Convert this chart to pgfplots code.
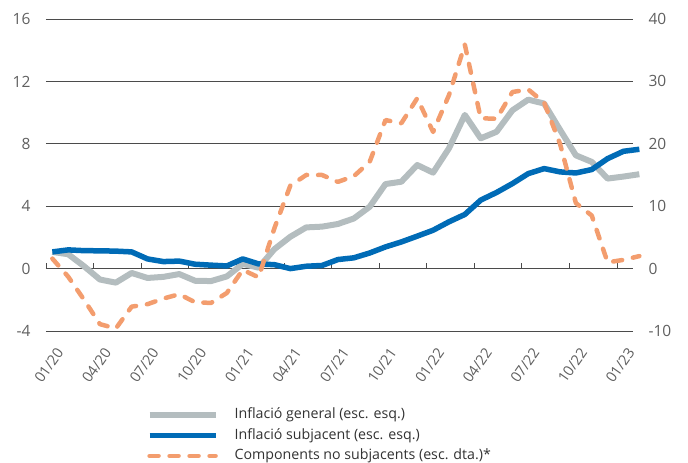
\documentclass[border=0pt]{standalone}
\usepackage{fontspec}
\setmainfont{Open Sans}
\usepackage{pgfplots}
\usepackage{pgfplotstable}
\pgfplotsset{compat=1.18}
\definecolor{cgen}{RGB}{180,189,191}
\definecolor{csub}{RGB}{0,107,182}
\definecolor{cnsub}{RGB}{243,157,110}
\definecolor{cgrid}{RGB}{75,75,75}
\definecolor{ctick}{RGB}{95,95,95}
\definecolor{ctext}{RGB}{50,50,50}

\pgfplotstableread{
x gen sub nsub
0.4 1.07 1.07 1.6
1.4 0.92 1.20 -1.3
2.4 0.15 1.15 -5.0
3.4 -0.70 1.14 -8.9
4.4 -0.90 1.12 -9.6
5.4 -0.28 1.07 -6.1
6.4 -0.60 0.62 -5.7
7.4 -0.53 0.45 -4.8
8.4 -0.35 0.48 -4.1
9.4 -0.78 0.28 -5.4
10.4 -0.80 0.22 -5.5
11.4 -0.50 0.17 -3.9
12.4 0.30 0.62 -0.2
13.4 0.06 0.30 -1.4
14.4 1.25 0.25 6.5
15.4 2.04 0.00 13.3
16.4 2.64 0.15 15.0
17.4 2.69 0.20 15.0
18.4 2.86 0.58 13.9
19.4 3.21 0.69 14.8
20.4 3.96 1.00 17.1
21.4 5.42 1.39 23.8
22.4 5.57 1.71 23.3
23.4 6.64 2.08 27.3
24.4 6.15 2.46 21.9
25.4 7.71 3.00 27.8
26.4 9.85 3.47 35.9
27.4 8.35 4.39 24.1
28.4 8.77 4.88 24.0
29.4 10.15 5.45 28.3
30.4 10.83 6.09 28.7
31.4 10.58 6.41 26.6
32.4 8.90 6.20 20.0
33.4 7.26 6.13 10.5
34.4 6.84 6.35 8.5
35.4 5.77 7.05 1.0
36.4 5.90 7.52 1.4
37.4 6.05 7.65 2.0
}\datatable

\pgfplotsset{
  genstyle/.style={cgen, line width=6pt, line join=round},
  substyle/.style={csub, line width=5.5pt, line join=round},
  nsubstyle/.style={cnsub, line width=4.5pt, line cap=round, line join=round, dash pattern=on 9pt off 11pt},
}

\begin{document}
\begin{tikzpicture}
\useasboundingbox (0,0) rectangle (688pt,463pt);
\begin{axis}[
  at={(46pt,132pt)}, anchor=south west,
  scale only axis, width=587pt, height=312pt,
  xmin=0, xmax=37, ymin=-4, ymax=16,
  clip=false,
  axis x line=middle, axis y line*=left,
  hide obscured x ticks=false,
  x axis line style={-, draw=cgrid, line width=1pt},
  y axis line style={draw=none},
  xtick={0,3,...,36},
  xticklabels={01/20,04/20,07/20,10/20,01/21,04/21,07/21,10/21,01/22,04/22,07/22,10/22,01/23},
  xtick align=inside,
  major tick length=6pt,
  xtick style={draw=cgrid, line width=0.9pt},
  ytick={-4,0,4,8,12,16},
  yticklabels={-4,0,4,8,12,16},
  ytick style={draw=none},
  ymajorgrids, grid style={cgrid, line width=0.8pt},
  xticklabel style={font=\fontsize{14.5}{17}\selectfont, text=ctick, xshift=16pt, yshift=-78pt, rotate=55, anchor=east},
  yticklabel style={font=\fontsize{15.5}{18}\selectfont, text=ctick, xshift=-12pt},
]
\addplot[genstyle] table[x=x, y=gen] {\datatable};
\addplot[substyle] table[x=x, y=sub] {\datatable};
\end{axis}
\begin{axis}[
  at={(46pt,132pt)}, anchor=south west,
  scale only axis, width=587pt, height=312pt,
  xmin=0, xmax=37, ymin=-10, ymax=40,
  clip=false,
  hide x axis,
  axis y line*=right,
  y axis line style={draw=none},
  ytick={-10,0,10,20,30,40},
  yticklabels={-10,0,10,20,30,40},
  ytick style={draw=none},
  yticklabel style={font=\fontsize{15.5}{18}\selectfont, text=ctick, xshift=12pt},
  legend cell align=left,
  legend image code/.code={\draw[#1] (0pt,0pt) -- (66pt,0pt);},
  legend style={draw=none, fill=none, at={(axis description cs:0.171,-0.245)}, anchor=north west,
    inner sep=0pt, row sep=6pt,
    font=\fontsize{14.2}{17}\selectfont, text=ctext,
    nodes={inner sep=0pt, text height=11pt, text depth=3.5pt},
    /tikz/every odd column/.append style={column sep=16pt}},
]
\addlegendimage{genstyle}
\addlegendentry{Inflació general (esc. esq.)}
\addlegendimage{substyle}
\addlegendentry{Inflació subjacent (esc. esq.)}
\addplot[nsubstyle] table[x=x, y=nsub] {\datatable};
\addlegendentry{Components no subjacents (esc. dta.)*}
\end{axis}
\end{tikzpicture}
\end{document}
